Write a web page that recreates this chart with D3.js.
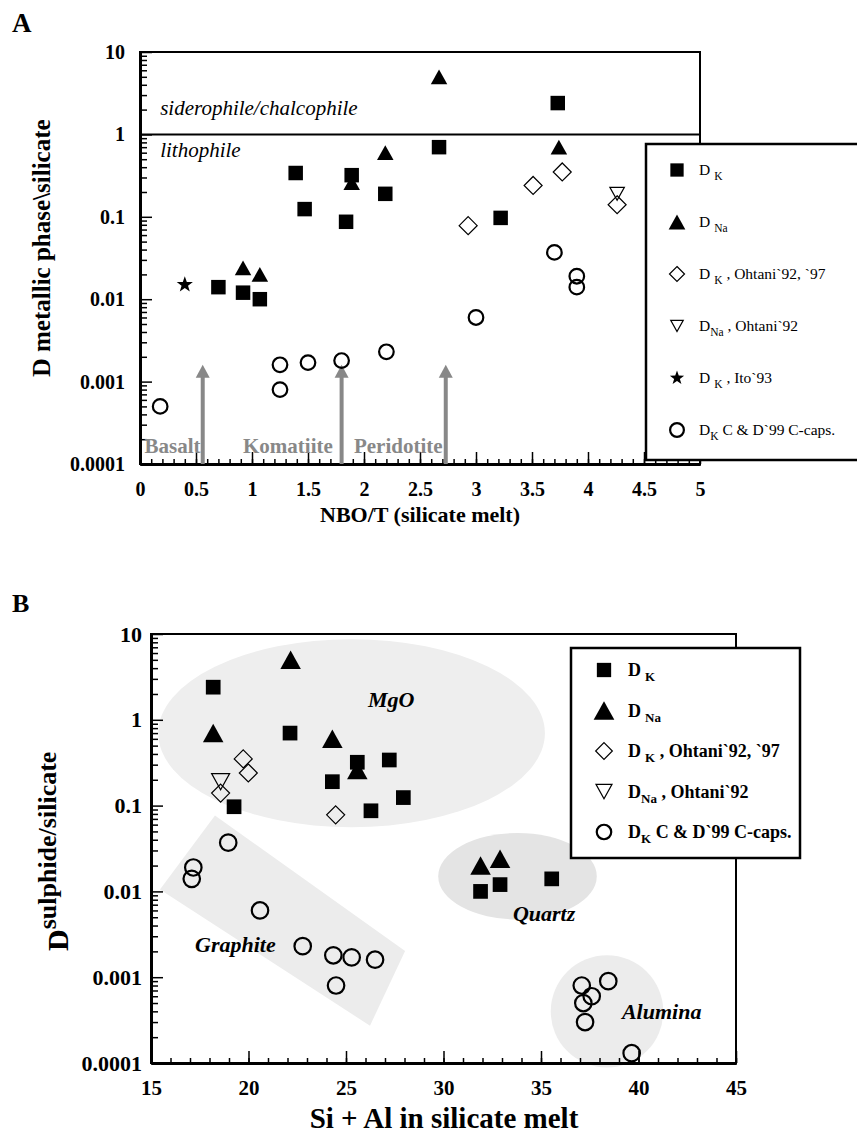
<!DOCTYPE html>
<html>
<head>
<meta charset="utf-8">
<script src="https://cdn.jsdelivr.net/npm/d3@7"></script>
<style>
  body { margin: 0; background: #fff; }
  svg { display: block; font-family: "Liberation Serif", "Times New Roman", serif; }
  text { white-space: pre; }
</style>
</head>
<body>
<svg id="chart" width="857" height="1134"></svg>
<script>
// ---- panel A : D metallic phase/silicate vs NBO/T ----
const aSquareX = [0.70, 0.92, 1.07, 1.39, 1.47, 1.84, 1.89, 2.19, 2.67, 3.22, 3.73];
const aSquareY = [0.014, 0.012, 0.010, 0.34, 0.124, 0.087, 0.32, 0.19, 0.70, 0.097, 2.4];
const aTriX = [0.92, 1.07, 1.89, 2.19, 2.67, 3.74];
const aTriY = [0.024, 0.020, 0.26, 0.60, 5.0, 0.70];
const aDiamondX = [2.93, 3.51, 3.77, 4.26];
const aDiamondY = [0.078, 0.24, 0.35, 0.14];
const aDownX = [4.26];
const aDownY = [0.19];
const aStarX = [0.40];
const aStarY = [0.015];
const aCircleX = [0.18, 1.25, 1.25, 1.50, 1.80, 2.20, 3.00, 3.70, 3.90, 3.90];
const aCircleY = [0.0005, 0.0008, 0.0016, 0.0017, 0.0018, 0.0023, 0.006, 0.037, 0.019, 0.014];

const meltNames = ["Basalt", "Komatiite", "Peridotite"];
const meltLabelX = [0.04, 0.92, 1.91];
const meltArrowX = [0.56, 1.80, 2.73];
const meltArrowTop = 0.0016;

// ---- panel B : D sulphide/silicate vs Si + Al ----
const bSquareX = [18.19, 22.13, 25.58, 27.22, 24.30, 27.94, 26.28, 19.26, 31.90, 32.90, 35.55];
const bSquareY = [2.4, 0.70, 0.32, 0.34, 0.19, 0.124, 0.087, 0.097, 0.010, 0.012, 0.014];
const bTriX = [22.16, 18.19, 24.30, 25.58, 31.90, 32.90];
const bTriY = [5.0, 0.70, 0.60, 0.26, 0.020, 0.024];
const bDiamondX = [24.47, 19.73, 19.99, 18.57];
const bDiamondY = [0.078, 0.35, 0.24, 0.14];
const bDownX = [18.57];
const bDownY = [0.19];
const bCircleX = [18.96, 17.17, 17.09, 20.59, 22.78, 24.35, 25.29, 26.49, 24.49,
                  37.09, 38.45, 37.60, 37.17, 37.26, 39.65];
const bCircleY = [0.037, 0.019, 0.014, 0.006, 0.0023, 0.0018, 0.0017, 0.0016, 0.0008,
                  0.0008, 0.0009, 0.0006, 0.0005, 0.0003, 0.00013];

// shaded composition fields (data space)
const fieldNames = ["MgO", "Quartz", "Alumina"];
const fieldX0 = [15.37, 29.73, 35.50];
const fieldX1 = [35.20, 37.86, 41.27];
const fieldYTop = [8.7, 0.048, 0.0018];
const fieldYBottom = [0.056, 0.0047, 0.0000885];
const fieldFill = ["#eeeeee", "#e4e4e4", "#ececec"];
const graphiteX = [18.28, 28.03, 26.23, 15.46];
const graphiteY = [0.0766, 0.00202, 0.000272, 0.01055];
const fieldLabels = ["MgO", "Quartz", "Alumina", "Graphite"];
const fieldLabelX = [26.13, 33.56, 39.15, 17.26];
const fieldLabelY = [1.42, 0.0045, 0.00033, 0.00197];

// legends
const legendAShapes = ["square", "up", "diamond", "down", "star", "circle"];
const legendASub = ["K", "Na", "K", "Na", "K", "K"];
const legendARest = ["", "", " , Ohtani`92, `97", " , Ohtani`92", " , Ito`93", " C & D`99 C-caps."];
const legendAGap = [true, true, true, false, true, false];
const legendBShapes = ["square", "up", "diamond", "down", "circle"];
const legendBSub = ["K", "Na", "K", "Na", "K"];
const legendBRest = ["", "", " , Ohtani`92, `97", " , Ohtani`92", " C & D`99 C-caps."];
const legendBGap = [true, true, true, false, false];

const decades = [0.0001, 0.001, 0.01, 0.1, 1, 10];

const serif = "Liberation Serif, Times New Roman, serif";
const svg = d3.select("#chart").attr("font-family", serif);

const xA = d3.scaleLinear().domain([0, 5]).range([140, 700]);
const yA = d3.scaleLog().domain([0.0001, 10]).range([464, 52]);
const xB = d3.scaleLinear().domain([15, 45]).range([151, 736]);
const yB = d3.scaleLog().domain([0.0001, 10]).range([1063, 634]);

const minorLog = [];
decades.slice(0, -1).forEach(d => {
    for (let k = 2; k <= 9; k++) minorLog.push(d * k);
});

function markPath(shape, s) {
    const h = s / 2;
    if (shape === "square") return `M${-h},${-h}H${h}V${h}H${-h}Z`;
    if (shape === "up") return `M0,${-h * 0.9}L${h},${h * 0.9}L${-h},${h * 0.9}Z`;
    if (shape === "down") return `M${-h},${-h * 0.9}H${h}L0,${h * 0.9}Z`;
    if (shape === "diamond") return `M0,${-h}L${h},0L0,${h}L${-h},0Z`;
    if (shape === "circle") {
        const p = d3.path();
        p.arc(0, 0, h, 0, 2 * Math.PI);
        return p.toString();
    }
    // five point star
    const pts = d3.range(10).map(i => {
        const r = i % 2 ? h * 0.4 : h;
        const a = -Math.PI / 2 + i * Math.PI / 5;
        return [r * Math.cos(a), r * Math.sin(a)];
    });
    return "M" + pts.join("L") + "Z";
}

function styleMark(sel, shape) {
    if (shape === "square" || shape === "up" || shape === "star") {
        sel.attr("fill", "#000").attr("stroke", "none");
    } else if (shape === "circle") {
        sel.attr("fill", "none").attr("stroke", "#000").attr("stroke-width", 2.2);
    } else {
        sel.attr("fill", "none").attr("stroke", "#000").attr("stroke-width", 1.2);
    }
}

function drawMarks(g, x, y, xs, ys, shape, size) {
    g.append("g").selectAll("path")
        .data(d3.zip(xs, ys))
        .join("path")
        .attr("transform", d => `translate(${x(d[0])},${y(d[1])})`)
        .attr("d", markPath(shape, size))
        .call(styleMark, shape);
}

function styleAxis(g, size) {
    g.attr("font-family", serif).attr("font-size", size).attr("font-weight", "bold");
    g.select(".domain").attr("stroke-width", 3);
    g.selectAll(".tick line").attr("stroke-width", 1.5);
    g.selectAll(".tick text").attr("fill", "#000");
}

function drawAxes(g, x, y, xMajor, xMinor, xFmt, opt) {
    const x0 = x.range()[0], y0 = y.range()[0];
    // frame
    g.append("rect")
        .attr("x", x0).attr("y", y.range()[1])
        .attr("width", x.range()[1] - x0).attr("height", y0 - y.range()[1])
        .attr("fill", "none").attr("stroke", "#000").attr("stroke-width", 2);
    g.append("g").attr("transform", `translate(0,${y0})`)
        .call(d3.axisBottom(x).tickValues(xMinor).tickSize(-5).tickSizeOuter(0).tickFormat(""))
        .call(styleAxis, opt.xFont);
    g.append("g").attr("transform", `translate(0,${y0})`)
        .call(d3.axisBottom(x).tickValues(xMajor).tickSize(-12).tickSizeOuter(0)
            .tickPadding(opt.xPad).tickFormat(xFmt))
        .call(styleAxis, opt.xFont);
    g.append("g").attr("transform", `translate(${x0},0)`)
        .call(d3.axisLeft(y).tickValues(minorLog).tickSize(-7).tickSizeOuter(0).tickFormat(""))
        .call(styleAxis, opt.yFont);
    g.append("g").attr("transform", `translate(${x0},0)`)
        .call(d3.axisLeft(y).tickValues(decades).tickSize(-12).tickSizeOuter(0)
            .tickPadding(opt.yPad).tickFormat(d => String(d)))
        .call(styleAxis, opt.yFont);
}

function drawLegend(g, box, shapes, subs, rests, gaps, opt) {
    g.append("rect")
        .attr("x", box[0]).attr("y", box[1]).attr("width", box[2]).attr("height", box[3])
        .attr("fill", "#fff").attr("stroke", "#000").attr("stroke-width", 2.5);
    shapes.forEach((shape, i) => {
        const cy = opt.y0 + i * opt.step;
        g.append("path")
            .attr("transform", `translate(${opt.symX},${cy})`)
            .attr("d", markPath(shape, opt.sizes[i]))
            .call(styleMark, shape);
        const t = g.append("text")
            .attr("x", opt.textX).attr("y", cy + opt.base)
            .attr("font-size", opt.font).attr("font-weight", opt.weight);
        t.append("tspan").text("D");
        t.append("tspan").attr("dx", gaps[i] ? 4 : 0).attr("dy", 5)
            .attr("font-size", opt.subFont).text(subs[i]);
        t.append("tspan").attr("dy", -5).text(rests[i]);
    });
}

// ================= panel A =================
const gA = svg.append("g");
gA.append("text").attr("x", 12).attr("y", 32)
    .attr("font-size", 27).attr("font-weight", "bold").text("A");

drawAxes(gA, xA, yA, d3.range(0, 5.01, 0.5), d3.range(0, 50).map(i => i / 10),
    d => String(d), { xFont: 20, yFont: 20, xPad: 18, yPad: 15 });

// lithophile boundary at D = 1
gA.append("line")
    .attr("x1", xA(0)).attr("x2", xA(5)).attr("y1", yA(1)).attr("y2", yA(1))
    .attr("stroke", "#000").attr("stroke-width", 2);
gA.append("text").attr("x", xA(0.18)).attr("y", yA(1.72))
    .attr("font-size", 21).attr("font-style", "italic").text("siderophile/chalcophile");
gA.append("text").attr("x", xA(0.18)).attr("y", yA(0.53))
    .attr("font-size", 21).attr("font-style", "italic").text("lithophile");

// melt composition arrows
meltArrowX.forEach((v, i) => {
    const ax = xA(v), tip = yA(meltArrowTop);
    gA.append("line")
        .attr("x1", ax).attr("x2", ax).attr("y1", yA(0.0001)).attr("y2", tip + 10)
        .attr("stroke", "#888").attr("stroke-width", 4);
    gA.append("path")
        .attr("d", `M${ax},${tip}L${ax + 7},${tip + 13}L${ax - 7},${tip + 13}Z`)
        .attr("fill", "#888");
    gA.append("text").attr("x", xA(meltLabelX[i])).attr("y", yA(0.000136))
        .attr("font-size", 21).attr("font-weight", "bold").attr("fill", "#888")
        .text(meltNames[i]);
});

drawMarks(gA, xA, yA, aCircleX, aCircleY, "circle", 14.6);
drawMarks(gA, xA, yA, aDiamondX, aDiamondY, "diamond", 18);
drawMarks(gA, xA, yA, aDownX, aDownY, "down", 14.5);
drawMarks(gA, xA, yA, aTriX, aTriY, "up", 16.5);
drawMarks(gA, xA, yA, aSquareX, aSquareY, "square", 14.5);
drawMarks(gA, xA, yA, aStarX, aStarY, "star", 17);

gA.append("text").attr("x", 420).attr("y", 522).attr("text-anchor", "middle")
    .attr("font-size", 22).attr("font-weight", "bold").text("NBO/T (silicate melt)");
const yTitleA = gA.append("text").attr("transform", "translate(50,377) rotate(-90)")
    .attr("font-weight", "bold");
yTitleA.append("tspan").attr("font-size", 26).text("D");
yTitleA.append("tspan").attr("font-size", 25).text(" metallic phase\\silicate");

drawLegend(gA, [646, 144, 240, 316], legendAShapes, legendASub, legendARest, legendAGap, {
    y0: 170, step: 52, symX: 677, textX: 699, base: 5, font: 15.5, subFont: 11.5,
    weight: "normal", sizes: [13.3, 16.7, 15, 12.5, 15, 13.8]
});

// ================= panel B =================
const gB = svg.append("g");
gB.append("text").attr("x", 12).attr("y", 612)
    .attr("font-size", 26).attr("font-weight", "bold").text("B");

// shaded fields
fieldNames.forEach((name, i) => {
    const cx = (xB(fieldX0[i]) + xB(fieldX1[i])) / 2;
    const cy = (yB(fieldYTop[i]) + yB(fieldYBottom[i])) / 2;
    gB.append("ellipse")
        .attr("cx", cx).attr("cy", cy)
        .attr("rx", (xB(fieldX1[i]) - xB(fieldX0[i])) / 2)
        .attr("ry", (yB(fieldYBottom[i]) - yB(fieldYTop[i])) / 2)
        .attr("fill", fieldFill[i]);
});
gB.append("path")
    .attr("d", d3.line().x(d => xB(d[0])).y(d => yB(d[1]))(d3.zip(graphiteX, graphiteY)) + "Z")
    .attr("fill", "#ececec");

drawAxes(gB, xB, yB, d3.range(15, 46, 5), d3.range(15, 46),
    d => String(d), { xFont: 21, yFont: 22, xPad: 17, yPad: 9 });

drawMarks(gB, xB, yB, bCircleX, bCircleY, "circle", 16.5);
drawMarks(gB, xB, yB, bDiamondX, bDiamondY, "diamond", 18);
drawMarks(gB, xB, yB, bDownX, bDownY, "down", 18);
drawMarks(gB, xB, yB, bTriX, bTriY, "up", 20.5);
drawMarks(gB, xB, yB, bSquareX, bSquareY, "square", 14.7);

fieldLabels.forEach((name, i) => {
    gB.append("text").attr("x", xB(fieldLabelX[i])).attr("y", yB(fieldLabelY[i]))
        .attr("font-size", 22).attr("font-weight", "bold").attr("font-style", "italic")
        .text(name);
});

gB.append("text").attr("x", 444).attr("y", 1128).attr("text-anchor", "middle")
    .attr("font-size", 29).attr("font-weight", "bold").text("Si + Al in silicate melt");
const yTitleB = gB.append("text").attr("transform", "translate(68,951) rotate(-90)")
    .attr("font-weight", "bold");
yTitleB.append("tspan").attr("font-size", 30).text("D");
yTitleB.append("tspan").attr("font-size", 26).attr("dy", -12).text("sulphide/silicate");

drawLegend(gB, [571, 648, 229, 210], legendBShapes, legendBSub, legendBRest, legendBGap, {
    y0: 670, step: 40.5, symX: 604, textX: 628, base: 6, font: 18, subFont: 13,
    weight: "bold", sizes: [14.3, 20.7, 16.7, 16, 14.5]
});
</script>
</body>
</html>
